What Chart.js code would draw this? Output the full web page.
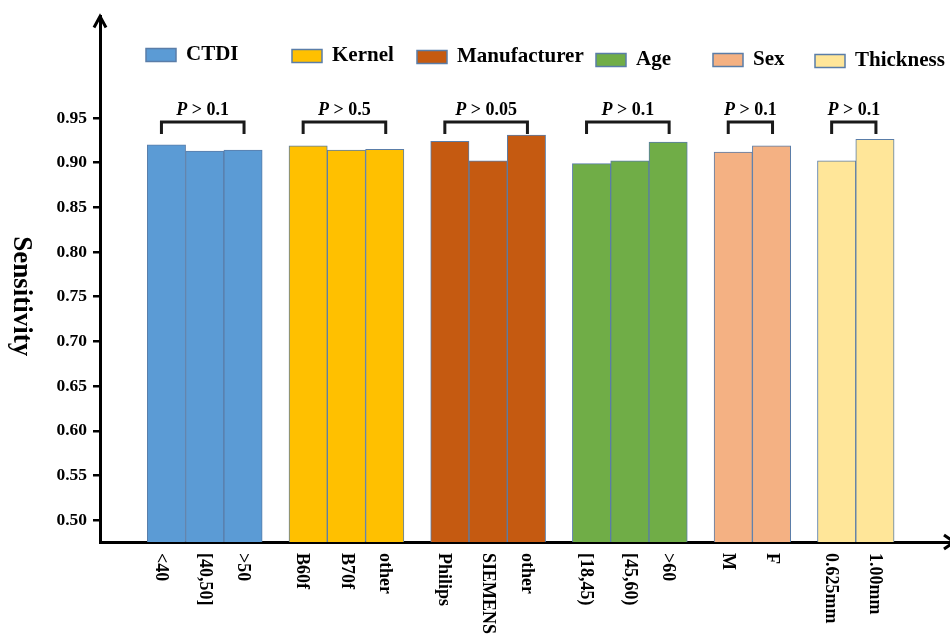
<!DOCTYPE html>
<html>
<head>
<meta charset="utf-8">
<script src="https://cdn.jsdelivr.net/npm/chart.js@4.4.0/dist/chart.umd.min.js"></script>
<style>
  html, body { margin: 0; padding: 0; background: #fff; }
  #wrap { width: 950px; height: 637px; }
</style>
</head>
<body>
<div id="wrap"><canvas id="barChart" width="950" height="637"></canvas></div>
<script>
const groupNames = ["CTDI", "Kernel", "Manufacturer", "Age", "Sex", "Thickness"];

const ctdiLabels = ["<40", "[40,50]", ">50"];
const kernelLabels = ["B60f", "B70f", "other"];
const manufacturerLabels = ["Philips", "SIEMENS", "other"];
const ageLabels = ["[18,45)", "[45,60)", ">60"];
const sexLabels = ["M", "F"];
const thicknessLabels = ["0.625mm", "1.00mm"];

const ctdiValues = [0.920, 0.913, 0.914];
const kernelValues = [0.919, 0.914, 0.915];
const manufacturerValues = [0.924, 0.902, 0.931];
const ageValues = [0.899, 0.902, 0.923];
const sexValues = [0.912, 0.919];
const thicknessValues = [0.902, 0.926];

const pValues = ["0.1", "0.5", "0.05", "0.1", "0.1", "0.1"];
const yTicks = [0.50, 0.55, 0.60, 0.65, 0.70, 0.75, 0.80, 0.85, 0.90, 0.95];

const groupLabels = [ctdiLabels, kernelLabels, manufacturerLabels, ageLabels, sexLabels, thicknessLabels];
const groupValues = [ctdiValues, kernelValues, manufacturerValues, ageValues, sexValues, thicknessValues];
const colors = ["#5b9bd5", "#ffc000", "#c55a11", "#70ad47", "#f4b183", "#ffe699"];
const FONT = "'Liberation Serif', 'Times New Roman', serif";
const GAP = 0.7; // space between groups, in bar widths

// bar slots along a linear x axis, with a gap after every group
let pos = 0;
const groupPositions = groupLabels.map(labels => {
  const xs = labels.map(() => pos++);
  pos += GAP;
  return xs;
});
const allPositions = [].concat(...groupPositions);

const datasets = groupNames.map((name, g) => ({
  label: name,
  data: groupValues[g].map((v, i) => ({ x: groupPositions[g][i], y: v })),
  backgroundColor: colors[g],
  borderColor: "#5a7da8",
  borderWidth: 1,
  barPercentage: 1,
  categoryPercentage: 1,
  grouped: false
}));

// legend placement, roughly over each group
const legendX = [146, 292, 417, 596, 713, 815];
const legendY = [55, 56, 57, 60, 60, 61];

const decorPlugin = {
  id: "decor",
  afterDraw(chart) {
    const ctx = chart.ctx;
    const xs = chart.scales.x;
    const area = chart.chartArea;
    ctx.save();
    ctx.strokeStyle = "#000";
    ctx.fillStyle = "#000";
    ctx.lineWidth = 3;

    // axis arrows
    ctx.beginPath();
    ctx.moveTo(area.left - 6, area.top + 11);
    ctx.lineTo(area.left, area.top);
    ctx.lineTo(area.left + 6, area.top + 11);
    ctx.stroke();
    ctx.beginPath();
    ctx.moveTo(area.right - 6, area.bottom - 7);
    ctx.lineTo(area.right + 4, area.bottom);
    ctx.lineTo(area.right - 6, area.bottom + 7);
    ctx.stroke();

    // y title
    ctx.save();
    ctx.translate(21, (area.top + area.bottom) / 2 + 17);
    ctx.rotate(Math.PI / 2);
    ctx.font = "bold 27px " + FONT;
    ctx.textAlign = "center";
    ctx.textBaseline = "middle";
    ctx.fillText("Sensitivity", 0, 0);
    ctx.restore();

    // x labels, rotated clockwise
    ctx.font = "bold 18px " + FONT;
    ctx.textAlign = "left";
    ctx.textBaseline = "middle";
    groupPositions.forEach((xsPos, g) => {
      xsPos.forEach((p, i) => {
        const x = xs.getPixelForValue(p) - (i === 0 ? 6 : 0);
        ctx.save();
        ctx.translate(x, area.bottom + 11);
        ctx.rotate(Math.PI / 2);
        ctx.fillText(groupLabels[g][i], 0, 0);
        ctx.restore();
      });
    });

    // brackets with p values
    groupPositions.forEach((xsPos, g) => {
      const x1 = xs.getPixelForValue(xsPos[0]) - 5;
      const x2 = xs.getPixelForValue(xsPos[xsPos.length - 1]) + 1;
      const top = area.top + 105.5;
      ctx.strokeStyle = "#1a1a1a";
      ctx.lineWidth = 3;
      ctx.beginPath();
      ctx.moveTo(x1, top + 12);
      ctx.lineTo(x1, top);
      ctx.lineTo(x2, top);
      ctx.lineTo(x2, top + 12);
      ctx.stroke();

      const pText = "P";
      const rest = " > " + pValues[g];
      ctx.font = "italic bold 18px " + FONT;
      const w1 = ctx.measureText(pText).width;
      ctx.font = "bold 18px " + FONT;
      const w2 = ctx.measureText(rest).width;
      let tx = (x1 + x2) / 2 - (w1 + w2) / 2;
      ctx.textBaseline = "middle";
      ctx.font = "italic bold 18px " + FONT;
      ctx.fillText(pText, tx, top - 12);
      ctx.font = "bold 18px " + FONT;
      ctx.fillText(rest, tx + w1, top - 12);
    });

    // legend
    ctx.font = "bold 21px " + FONT;
    ctx.textBaseline = "middle";
    chart.data.datasets.forEach((ds, g) => {
      const bx = legendX[g], by = legendY[g];
      ctx.fillStyle = ds.backgroundColor;
      ctx.fillRect(bx, by - 6.5, 30, 13);
      ctx.strokeStyle = ds.borderColor;
      ctx.lineWidth = 1.5;
      ctx.strokeRect(bx, by - 6.5, 30, 13);
      ctx.fillStyle = "#000";
      ctx.fillText(ds.label, bx + 40, by);
    });
    ctx.restore();
  }
};

new Chart(document.getElementById("barChart"), {
  type: "bar",
  data: { datasets: datasets },
  options: {
    responsive: false,
    animation: false,
    devicePixelRatio: 1,
    layout: { padding: { top: 14, left: 0, right: 0, bottom: 0 } },
    plugins: {
      legend: { display: false },
      tooltip: { enabled: false }
    },
    scales: {
      x: {
        type: "linear",
        offset: false,
        bounds: "data",
        min: -1.735,
        max: 20.46,
        afterBuildTicks: scale => { scale.ticks = allPositions.map(v => ({ value: v })); },
        afterFit: scale => { scale.height = 95; },
        grid: { display: false },
        ticks: { display: false },
        border: { display: true, color: "#000", width: 3 }
      },
      y: {
        min: 0.4755,
        max: 1.0636,
        bounds: "data",
        beginAtZero: false,
        afterBuildTicks: scale => { scale.ticks = yTicks.map(v => ({ value: v })); },
        afterFit: scale => { scale.width = 100; },
        grid: { drawOnChartArea: false, drawTicks: true, tickLength: 7, color: "#000", lineWidth: 2.5 },
        border: { display: true, color: "#000", width: 3 },
        ticks: {
          color: "#000",
          padding: 6,
          font: { family: FONT, size: 17.5, weight: "bold" },
          callback: v => v.toFixed(2)
        }
      }
    }
  },
  plugins: [decorPlugin]
});
</script>
</body>
</html>
